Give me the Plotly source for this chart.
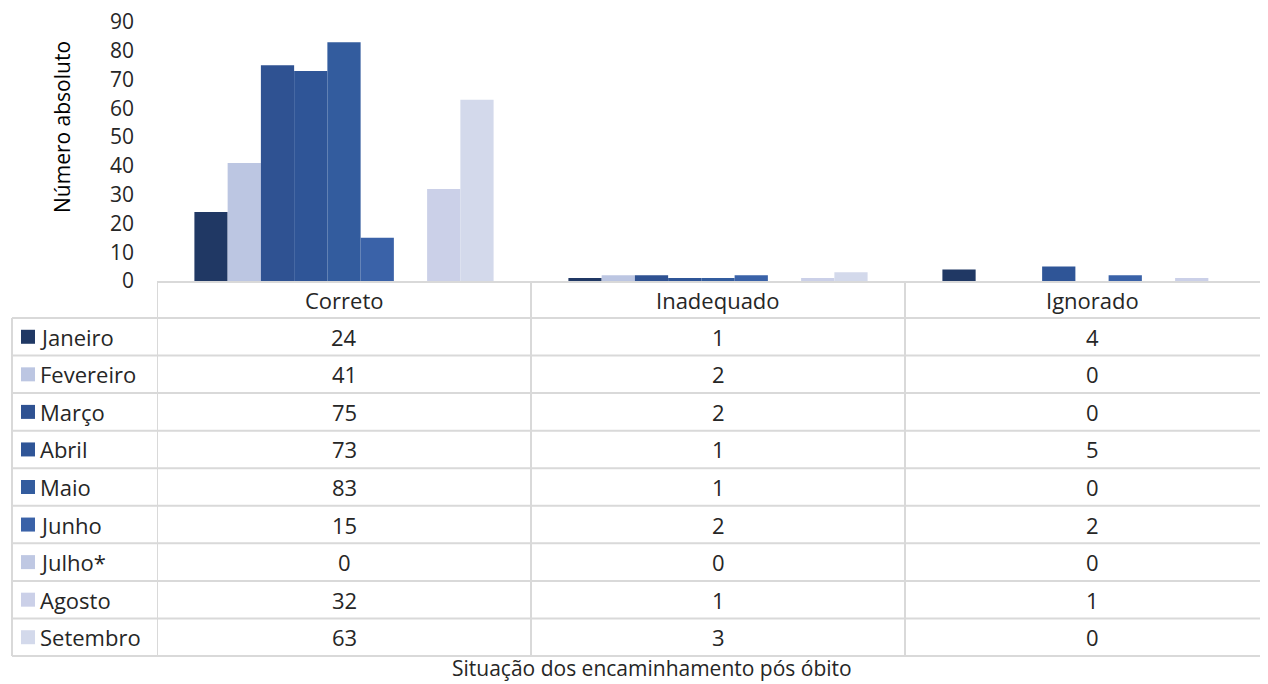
import plotly.graph_objects as go

categories = ["Correto", "Inadequado", "Ignorado"]
months = ["Janeiro", "Fevereiro", "Março", "Abril", "Maio", "Junho", "Julho*", "Agosto", "Setembro"]
janeiro = [24, 1, 4]
fevereiro = [41, 2, 0]
marco = [75, 2, 0]
abril = [73, 1, 5]
maio = [83, 1, 0]
junho = [15, 2, 2]
julho = [0, 0, 0]
agosto = [32, 1, 1]
setembro = [63, 3, 0]
series = [janeiro, fevereiro, marco, abril, maio, junho, julho, agosto, setembro]
colors = ["#203864", "#BCC6E2", "#2F5292", "#2F5597", "#335C9E", "#3A62A8",
          "#BFC8E3", "#CBD0E8", "#D3D9EB"]
y_ticks = [0, 10, 20, 30, 40, 50, 60, 70, 80, 90]

W, H = 1268, 684
OFF = 8  # page body margin of the html page
PL, PT, PB = 157, 22, 281  # plot area pixel bounds (page coordinates)
FONT = "Open Sans"
FS = 21
FT = 22
TXT = "#262626"
GRID = "#D9D9D9"


def px_x(px):
    return (px - PL) / (W - PL)


def px_y(py):
    return (PB - py) / (PB - PT)


fig = go.Figure()
for name, vals, col in zip(months, series, colors):
    fig.add_trace(go.Bar(x=categories, y=vals, name=name, marker_color=col,
                         marker_line_width=0, showlegend=False))

shapes = []
annotations = []

header_top, header_bot = 282, 318
row_h = (656 - 318) / len(months)
left_x = 12
line = dict(color=GRID, width=2)

shapes.append(dict(type="line", xref="paper", yref="paper", x0=0, x1=1,
                   y0=px_y(header_top), y1=px_y(header_top), line=line))
for i in range(len(months) + 1):
    yy = px_y(header_bot + i * row_h)
    shapes.append(dict(type="line", xref="paper", yref="paper", x0=px_x(left_x), x1=1,
                       y0=yy, y1=yy, line=line))
for i in range(len(categories)):
    shapes.append(dict(type="line", xref="x", yref="paper", x0=i - 0.5, x1=i - 0.5,
                       y0=px_y(header_top), y1=px_y(656), line=line))
shapes.append(dict(type="line", xref="paper", yref="paper", x0=px_x(left_x), x1=px_x(left_x),
                   y0=px_y(header_bot), y1=px_y(656), line=line))

for c in categories:
    annotations.append(dict(x=c, xref="x", y=px_y((header_top + header_bot) / 2), yref="paper",
                            text=c, showarrow=False, font=dict(family=FONT, size=FT, color=TXT),
                            xanchor="center", yanchor="middle"))

for r, (name, vals, col) in enumerate(zip(months, series, colors)):
    cy = header_bot + (r + 0.5) * row_h
    shapes.append(dict(type="rect", xref="paper", yref="paper",
                       x0=px_x(21), x1=px_x(35), y0=px_y(cy + 7), y1=px_y(cy - 7),
                       fillcolor=col, line=dict(width=0)))
    annotations.append(dict(x=px_x(38), xref="paper", y=px_y(cy), yref="paper", text=name,
                            showarrow=False, xanchor="left", yanchor="middle",
                            font=dict(family=FONT, size=FT, color=TXT)))
    for c, v in zip(categories, vals):
        annotations.append(dict(x=c, xref="x", y=px_y(cy), yref="paper", text=str(v),
                                showarrow=False, xanchor="center", yanchor="middle",
                                font=dict(family=FONT, size=FT, color=TXT)))

annotations.append(dict(x=px_x(62), xref="paper", y=px_y(127), yref="paper",
                        text="Número absoluto", textangle=-90, showarrow=False,
                        xanchor="center", yanchor="middle",
                        font=dict(family=FONT, size=FS, color="#000000")))
annotations.append(dict(x=px_x(652), xref="paper", y=px_y(668), yref="paper",
                        text="Situação dos encaminhamento pós óbito", showarrow=False,
                        xanchor="center", yanchor="middle",
                        font=dict(family=FONT, size=FS, color=TXT)))

fig.update_layout(
    width=W - OFF, height=H - OFF,
    margin=dict(l=PL - OFF, r=0, t=PT - OFF, b=H - PB, pad=0),
    plot_bgcolor="white", paper_bgcolor="white",
    barmode="group", bargap=0.2, bargroupgap=0,
    xaxis=dict(range=[-0.5, 2.5 - (3 * 374 - (W - PL)) / 374], showticklabels=False,
               showgrid=False, zeroline=False, showline=False, fixedrange=True),
    yaxis=dict(range=[0, 90], tickvals=y_ticks, showgrid=False, zeroline=False,
               showline=False, ticks="", ticklabelstandoff=22, ticklabeloverflow="allow",
               tickfont=dict(family=FONT, size=FS, color=TXT)),
    shapes=shapes, annotations=annotations,
)

fig.write_html("out.html")
